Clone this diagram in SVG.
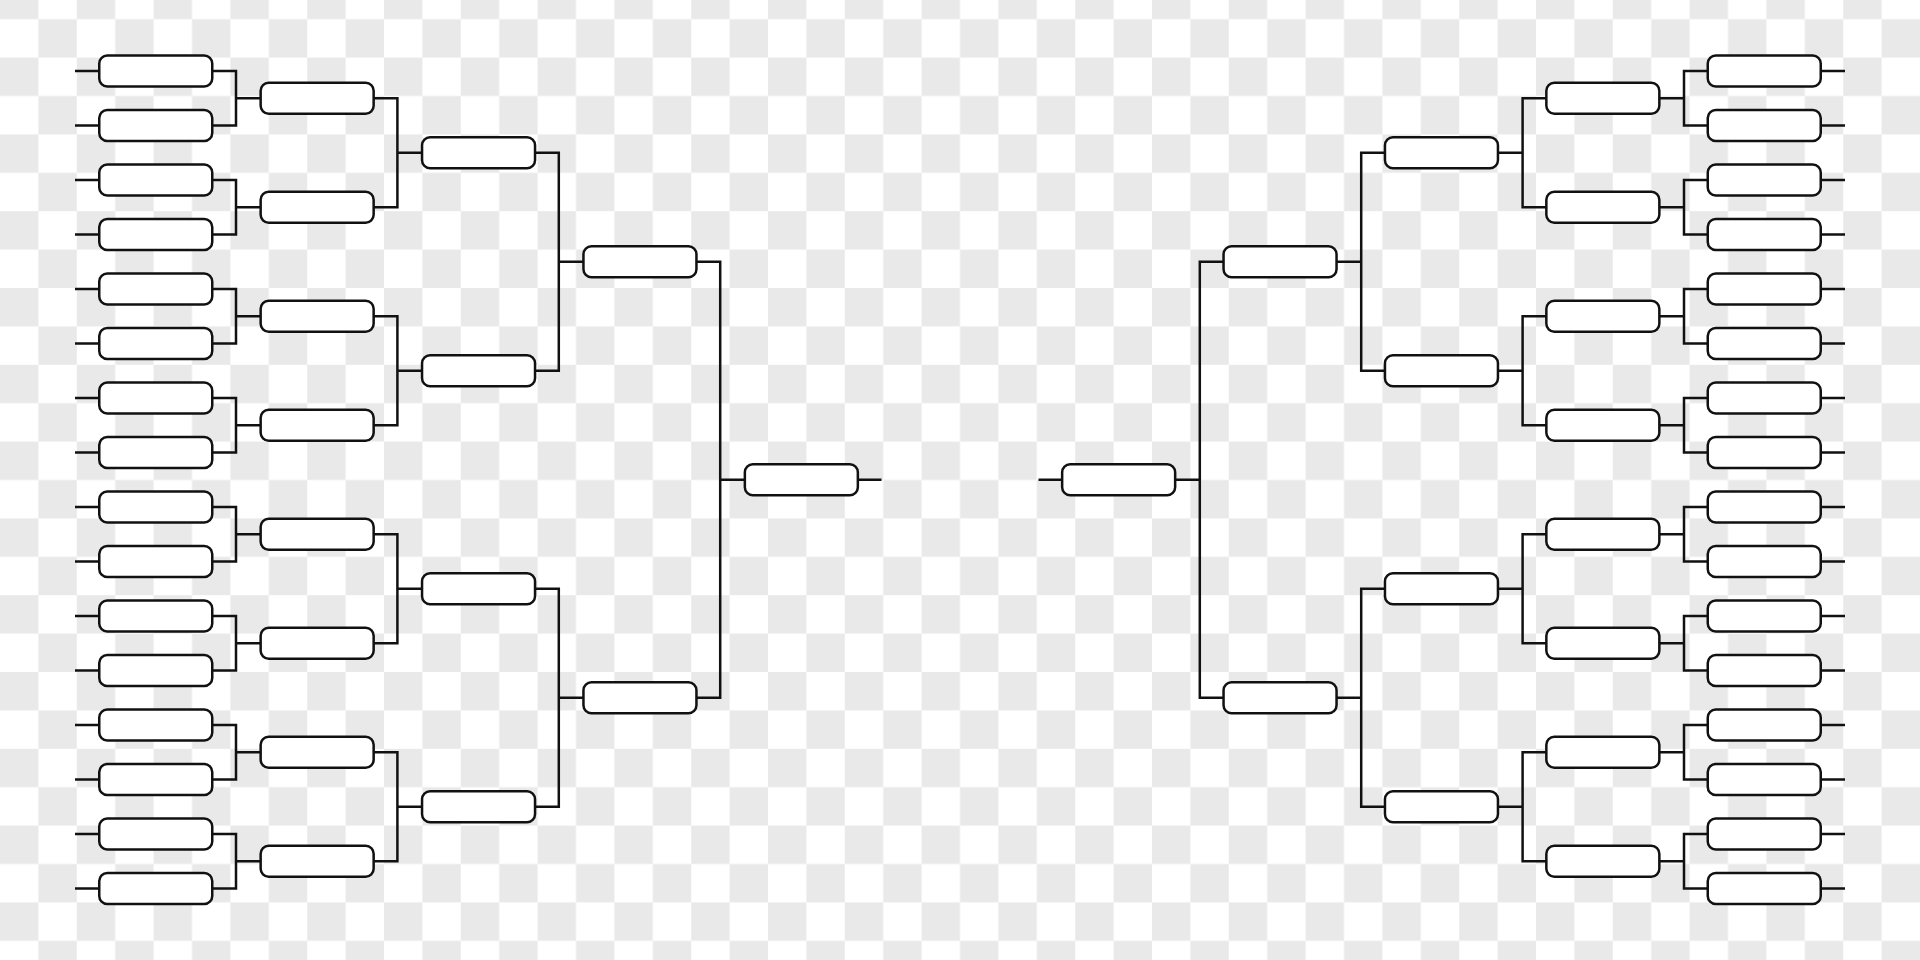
<svg xmlns="http://www.w3.org/2000/svg" width="1920" height="960" viewBox="0 0 1920 960">
<defs>
<pattern id="chk" patternUnits="userSpaceOnUse" x="0" y="-19.2" width="76.8" height="76.8">
<rect width="76.8" height="76.8" fill="#ffffff"/>
<rect width="38.4" height="38.4" fill="#e9e9e9"/>
<rect x="38.4" y="38.4" width="38.4" height="38.4" fill="#e9e9e9"/>
</pattern>
<style>
.b{fill:#ffffff;stroke:#111111;stroke-width:2.5}
.c{fill:none;stroke:#111111;stroke-width:2.5;stroke-linecap:butt;stroke-linejoin:miter}
</style>
</defs>
<rect width="1920" height="960" fill="url(#chk)"/>
<g id="connectors" class="c">
<path d="M75 71H99.25M75 125.5H99.25M75 180H99.25M75 234.5H99.25M75 289H99.25M75 343.5H99.25M75 398H99.25M75 452.5H99.25M75 507H99.25M75 561.5H99.25M75 616H99.25M75 670.5H99.25M75 725H99.25M75 779.5H99.25M75 834H99.25M75 888.5H99.25"/>
<path d="M1845 71H1820.75M1845 125.5H1820.75M1845 180H1820.75M1845 234.5H1820.75M1845 289H1820.75M1845 343.5H1820.75M1845 398H1820.75M1845 452.5H1820.75M1845 507H1820.75M1845 561.5H1820.75M1845 616H1820.75M1845 670.5H1820.75M1845 725H1820.75M1845 779.5H1820.75M1845 834H1820.75M1845 888.5H1820.75"/>
<path d="M212.25 71H236V125.5H212.25M236 98.25H260.65M212.25 180H236V234.5H212.25M236 207.25H260.65M212.25 289H236V343.5H212.25M236 316.25H260.65M212.25 398H236V452.5H212.25M236 425.25H260.65M212.25 507H236V561.5H212.25M236 534.25H260.65M212.25 616H236V670.5H212.25M236 643.25H260.65M212.25 725H236V779.5H212.25M236 752.25H260.65M212.25 834H236V888.5H212.25M236 861.25H260.65"/>
<path d="M1707.75 71H1684V125.5H1707.75M1684 98.25H1659.35M1707.75 180H1684V234.5H1707.75M1684 207.25H1659.35M1707.75 289H1684V343.5H1707.75M1684 316.25H1659.35M1707.75 398H1684V452.5H1707.75M1684 425.25H1659.35M1707.75 507H1684V561.5H1707.75M1684 534.25H1659.35M1707.75 616H1684V670.5H1707.75M1684 643.25H1659.35M1707.75 725H1684V779.5H1707.75M1684 752.25H1659.35M1707.75 834H1684V888.5H1707.75M1684 861.25H1659.35"/>
<path d="M373.65 98.25H397.4V207.25H373.65M397.4 152.75H422.05M373.65 316.25H397.4V425.25H373.65M397.4 370.75H422.05M373.65 534.25H397.4V643.25H373.65M397.4 588.75H422.05M373.65 752.25H397.4V861.25H373.65M397.4 806.75H422.05"/>
<path d="M1546.35 98.25H1522.6V207.25H1546.35M1522.6 152.75H1497.95M1546.35 316.25H1522.6V425.25H1546.35M1522.6 370.75H1497.95M1546.35 534.25H1522.6V643.25H1546.35M1522.6 588.75H1497.95M1546.35 752.25H1522.6V861.25H1546.35M1522.6 806.75H1497.95"/>
<path d="M535.05 152.75H558.8V370.75H535.05M558.8 261.75H583.45M535.05 588.75H558.8V806.75H535.05M558.8 697.75H583.45"/>
<path d="M1384.95 152.75H1361.2V370.75H1384.95M1361.2 261.75H1336.55M1384.95 588.75H1361.2V806.75H1384.95M1361.2 697.75H1336.55"/>
<path d="M696.45 261.75H720.2V697.75H696.45M720.2 479.75H744.85"/>
<path d="M1223.55 261.75H1199.8V697.75H1223.55M1199.8 479.75H1175.15"/>
<path d="M857.85 479.75H881.5M1062.15 479.75H1038.5"/>
</g>
<g id="L1-1"><rect class="b" x="99.25" y="55.5" width="113" height="31" rx="8"/></g>
<g id="L1-2"><rect class="b" x="99.25" y="110" width="113" height="31" rx="8"/></g>
<g id="L1-3"><rect class="b" x="99.25" y="164.5" width="113" height="31" rx="8"/></g>
<g id="L1-4"><rect class="b" x="99.25" y="219" width="113" height="31" rx="8"/></g>
<g id="L1-5"><rect class="b" x="99.25" y="273.5" width="113" height="31" rx="8"/></g>
<g id="L1-6"><rect class="b" x="99.25" y="328" width="113" height="31" rx="8"/></g>
<g id="L1-7"><rect class="b" x="99.25" y="382.5" width="113" height="31" rx="8"/></g>
<g id="L1-8"><rect class="b" x="99.25" y="437" width="113" height="31" rx="8"/></g>
<g id="L1-9"><rect class="b" x="99.25" y="491.5" width="113" height="31" rx="8"/></g>
<g id="L1-10"><rect class="b" x="99.25" y="546" width="113" height="31" rx="8"/></g>
<g id="L1-11"><rect class="b" x="99.25" y="600.5" width="113" height="31" rx="8"/></g>
<g id="L1-12"><rect class="b" x="99.25" y="655" width="113" height="31" rx="8"/></g>
<g id="L1-13"><rect class="b" x="99.25" y="709.5" width="113" height="31" rx="8"/></g>
<g id="L1-14"><rect class="b" x="99.25" y="764" width="113" height="31" rx="8"/></g>
<g id="L1-15"><rect class="b" x="99.25" y="818.5" width="113" height="31" rx="8"/></g>
<g id="L1-16"><rect class="b" x="99.25" y="873" width="113" height="31" rx="8"/></g>
<g id="L2-1"><rect class="b" x="260.65" y="82.75" width="113" height="31" rx="8"/></g>
<g id="L2-2"><rect class="b" x="260.65" y="191.75" width="113" height="31" rx="8"/></g>
<g id="L2-3"><rect class="b" x="260.65" y="300.75" width="113" height="31" rx="8"/></g>
<g id="L2-4"><rect class="b" x="260.65" y="409.75" width="113" height="31" rx="8"/></g>
<g id="L2-5"><rect class="b" x="260.65" y="518.75" width="113" height="31" rx="8"/></g>
<g id="L2-6"><rect class="b" x="260.65" y="627.75" width="113" height="31" rx="8"/></g>
<g id="L2-7"><rect class="b" x="260.65" y="736.75" width="113" height="31" rx="8"/></g>
<g id="L2-8"><rect class="b" x="260.65" y="845.75" width="113" height="31" rx="8"/></g>
<g id="L3-1"><rect class="b" x="422.05" y="137.25" width="113" height="31" rx="8"/></g>
<g id="L3-2"><rect class="b" x="422.05" y="355.25" width="113" height="31" rx="8"/></g>
<g id="L3-3"><rect class="b" x="422.05" y="573.25" width="113" height="31" rx="8"/></g>
<g id="L3-4"><rect class="b" x="422.05" y="791.25" width="113" height="31" rx="8"/></g>
<g id="L4-1"><rect class="b" x="583.45" y="246.25" width="113" height="31" rx="8"/></g>
<g id="L4-2"><rect class="b" x="583.45" y="682.25" width="113" height="31" rx="8"/></g>
<g id="L5-1"><rect class="b" x="744.85" y="464.25" width="113" height="31" rx="8"/></g>
<g id="R1-1"><rect class="b" x="1707.75" y="55.5" width="113" height="31" rx="8"/></g>
<g id="R1-2"><rect class="b" x="1707.75" y="110" width="113" height="31" rx="8"/></g>
<g id="R1-3"><rect class="b" x="1707.75" y="164.5" width="113" height="31" rx="8"/></g>
<g id="R1-4"><rect class="b" x="1707.75" y="219" width="113" height="31" rx="8"/></g>
<g id="R1-5"><rect class="b" x="1707.75" y="273.5" width="113" height="31" rx="8"/></g>
<g id="R1-6"><rect class="b" x="1707.75" y="328" width="113" height="31" rx="8"/></g>
<g id="R1-7"><rect class="b" x="1707.75" y="382.5" width="113" height="31" rx="8"/></g>
<g id="R1-8"><rect class="b" x="1707.75" y="437" width="113" height="31" rx="8"/></g>
<g id="R1-9"><rect class="b" x="1707.75" y="491.5" width="113" height="31" rx="8"/></g>
<g id="R1-10"><rect class="b" x="1707.75" y="546" width="113" height="31" rx="8"/></g>
<g id="R1-11"><rect class="b" x="1707.75" y="600.5" width="113" height="31" rx="8"/></g>
<g id="R1-12"><rect class="b" x="1707.75" y="655" width="113" height="31" rx="8"/></g>
<g id="R1-13"><rect class="b" x="1707.75" y="709.5" width="113" height="31" rx="8"/></g>
<g id="R1-14"><rect class="b" x="1707.75" y="764" width="113" height="31" rx="8"/></g>
<g id="R1-15"><rect class="b" x="1707.75" y="818.5" width="113" height="31" rx="8"/></g>
<g id="R1-16"><rect class="b" x="1707.75" y="873" width="113" height="31" rx="8"/></g>
<g id="R2-1"><rect class="b" x="1546.35" y="82.75" width="113" height="31" rx="8"/></g>
<g id="R2-2"><rect class="b" x="1546.35" y="191.75" width="113" height="31" rx="8"/></g>
<g id="R2-3"><rect class="b" x="1546.35" y="300.75" width="113" height="31" rx="8"/></g>
<g id="R2-4"><rect class="b" x="1546.35" y="409.75" width="113" height="31" rx="8"/></g>
<g id="R2-5"><rect class="b" x="1546.35" y="518.75" width="113" height="31" rx="8"/></g>
<g id="R2-6"><rect class="b" x="1546.35" y="627.75" width="113" height="31" rx="8"/></g>
<g id="R2-7"><rect class="b" x="1546.35" y="736.75" width="113" height="31" rx="8"/></g>
<g id="R2-8"><rect class="b" x="1546.35" y="845.75" width="113" height="31" rx="8"/></g>
<g id="R3-1"><rect class="b" x="1384.95" y="137.25" width="113" height="31" rx="8"/></g>
<g id="R3-2"><rect class="b" x="1384.95" y="355.25" width="113" height="31" rx="8"/></g>
<g id="R3-3"><rect class="b" x="1384.95" y="573.25" width="113" height="31" rx="8"/></g>
<g id="R3-4"><rect class="b" x="1384.95" y="791.25" width="113" height="31" rx="8"/></g>
<g id="R4-1"><rect class="b" x="1223.55" y="246.25" width="113" height="31" rx="8"/></g>
<g id="R4-2"><rect class="b" x="1223.55" y="682.25" width="113" height="31" rx="8"/></g>
<g id="R5-1"><rect class="b" x="1062.15" y="464.25" width="113" height="31" rx="8"/></g>
</svg>
